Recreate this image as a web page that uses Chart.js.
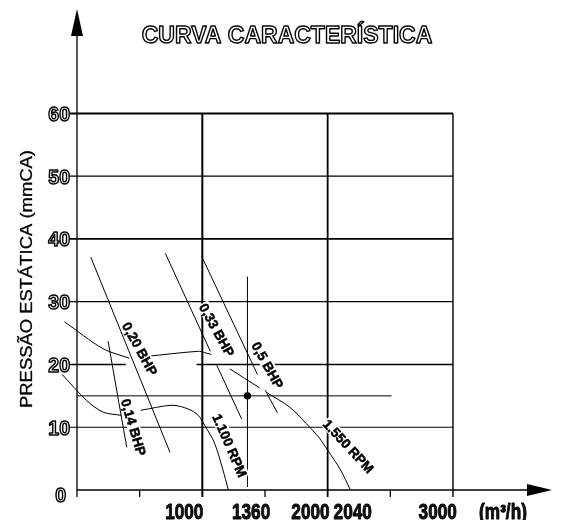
<!DOCTYPE html>
<html>
<head>
<meta charset="utf-8">
<script src="https://cdn.jsdelivr.net/npm/chart.js@4.4.0/dist/chart.umd.min.js"></script>
<style>
  html, body { margin: 0; padding: 0; background: #fff; }
  #wrap { width: 561px; height: 520px; }
</style>
</head>
<body>
<div id="wrap"><canvas id="curva"></canvas></div>
<script>
// vazão (m3/h) x pressão estática (mmCA)
const rpm1550Flow  = [-100, 209, 418, null, 562, 967, 1016, 1071, null, 1219, 1455, null, 1516, 1698, 1829, 1933, 1998, 2100, 2182];
const rpm1550Press = [26.8, 22.5, 21.0, null, 21.3, 22.1, 21.9, 21.6, null, 19.3, 16.3, null, 15.5, 13.2, 10.6, 8.3, 6.4, 3.3, 0];

const rpm1100Flow  = [-118, 78, 209, 353, null, 509, 758, 889, 967, 1019, 1097, 1163, 1208];
const rpm1100Press = [18.4, 14.25, 12.4, 11.9, null, 12.7, 13.5, 12.9, 11.9, 10.3, 7.5, 3.3, 0];

// linhas de potência
const bhp014Flow = [248, 397];          const bhp014Press = [23.7, 6.8];
const bhp020Flow = [110, 742];          const bhp020Press = [37.1, 6.0];
const bhp033Flow = [705, 1064, null, 1115, 1314]; const bhp033Press = [37.7, 22.1, null, 19.9, 11.3];
const bhp050Flow = [993, 1440, null, 1502, 1599]; const bhp050Press = [37.3, 18.4, null, 15.9, 12.3];

// ponto de operação
const opFlow = 1360;
const opPress = 15;
const opLineEnd = 2510;
const opVertTop = 34;

// eixos
const flowGrid = [1000, 2000, 3000];
const flowMinor = [500, 1500, 2500];
const pressGrid = [10, 20, 30, 40, 50, 60];
const pressLabels = ['0', '10', '20', '30', '40', '50', '60'];
const flowLabels = ['1000', '1360', '2000', '2040', '3000', '(m³/h)'];
const flowLabelAt = [856, 1389, 1863, 2200, 2878, 3399];
const grid20Gap = [389, 954];

const notes = [
  { text: '0,20 BHP', x: 503, y: 22.5, angle: 61 },
  { text: '0,14 BHP', x: 452, y: 10.0, angle: 73.5 },
  { text: '0,33 BHP', x: 1117, y: 25.5, angle: 61 },
  { text: '0,5 BHP', x: 1522, y: 19.9, angle: 60.6 },
  { text: '1.100 RPM', x: 1220, y: 7.1, angle: 66.7 },
  { text: '1.550 RPM', x: 2167, y: 7.0, angle: 47 }
];

const pts = (xs, ys) => xs.map((v, i) => ({ x: v, y: ys[i] }));
const FONT = '"Liberation Sans", Arial, sans-serif';

function line(data, tension) {
  return { data, showLine: true, borderColor: '#000', borderWidth: 1, pointRadius: 0, tension: tension || 0, spanGaps: false };
}

function seg(ctx, x1, y1, x2, y2, w) {
  ctx.lineWidth = w;
  ctx.beginPath();
  ctx.moveTo(x1, y1);
  ctx.lineTo(x2, y2);
  ctx.stroke();
}

function txt(ctx, s, px, py, size, opts) {
  const o = Object.assign({ weight: 'bold', sx: 1, align: 'center', fill: '#000', stroke: null, lw: 1 }, opts);
  ctx.save();
  ctx.translate(px, py);
  ctx.scale(o.sx, 1);
  ctx.font = o.weight + ' ' + size + 'px ' + FONT;
  ctx.textAlign = o.align;
  ctx.textBaseline = 'alphabetic';
  const by = size * 0.358;
  ctx.fillStyle = o.fill;
  ctx.fillText(s, 0, by);
  if (o.stroke) {
    ctx.lineWidth = o.lw;
    ctx.strokeStyle = o.stroke;
    ctx.lineJoin = 'round';
    ctx.strokeText(s, 0, by);
  }
  ctx.restore();
}

const drawing = {
  id: 'drawing',
  beforeDatasetsDraw(chart) {
    const { ctx, scales: { x, y } } = chart;
    const X = v => x.getPixelForValue(v), Y = v => y.getPixelForValue(v);
    ctx.save();
    ctx.strokeStyle = '#000';
    ctx.fillStyle = '#000';
    ctx.lineCap = 'butt';

    const x0 = X(0), y0 = Y(0);
    const right = X(3000);
    const hw = { 10: 1.1, 20: 1.3, 30: 1.3, 40: 1.8, 50: 1.2, 60: 2 };
    pressGrid.forEach(v => {
      if (v === 20) {
        seg(ctx, x0 - 7, Y(v), X(grid20Gap[0]), Y(v), hw[v]);
        seg(ctx, X(grid20Gap[1]), Y(v), right, Y(v), hw[v]);
      } else {
        seg(ctx, x0 - 7, Y(v), right, Y(v), hw[v]);
      }
    });
    const vw = { 1000: 2, 2000: 1.8, 3000: 1.4 };
    flowGrid.forEach(v => seg(ctx, X(v), Y(60), X(v), y0 + 7, vw[v]));
    flowMinor.forEach(v => seg(ctx, X(v), y0, X(v), y0 + 7, 1.3));

    // linhas do ponto de operação
    seg(ctx, x0, Y(opPress), X(opLineEnd), Y(opPress), 1);
    seg(ctx, X(opFlow), Y(opVertTop), X(opFlow), y0 - 3, 1);

    // eixos com setas
    const topTip = 9, rightTip = 552;
    seg(ctx, x0, y0 + 7, x0, topTip + 20, 1.3);
    seg(ctx, x0, y0, rightTip - 20, y0, 1.3);
    ctx.beginPath();
    ctx.moveTo(x0, topTip); ctx.lineTo(x0 - 6, topTip + 27); ctx.lineTo(x0 + 6, topTip + 27); ctx.closePath();
    ctx.fill();
    ctx.beginPath();
    ctx.moveTo(rightTip, y0); ctx.lineTo(rightTip - 25, y0 - 6); ctx.lineTo(rightTip - 25, y0 + 6); ctx.closePath();
    ctx.fill();

    // rótulos dos eixos
    pressLabels.forEach((s, i) => {
      const v = i * 10;
      const o = { sx: 0.95, align: 'right', fill: '#fff', stroke: '#000', lw: 1.5 };
      if (v === 0) txt(ctx, s, x0 - 11, y0 + 5, 20.5, o);
      else txt(ctx, s, x0 - 7, Y(v), 20.5, o);
    });
    flowLabels.forEach((s, i) => {
      txt(ctx, s, X(flowLabelAt[i]), 511.5, 21.5, { sx: 0.8, fill: '#111', stroke: '#000', lw: 0.9 });
    });

    // título
    txt(ctx, 'CURVA CARACTERÍSTICA', 287, 35, 23, { fill: '#fff', stroke: '#000', lw: 1.4 });

    // título do eixo y
    ctx.save();
    ctx.translate(26.5, 279);
    ctx.rotate(-Math.PI / 2);
    ctx.font = '16.5px ' + FONT;
    const w = ctx.measureText('PRESSÃO ESTÁTICA (mmCA)').width;
    ctx.scale(258 / w, 1);
    ctx.textAlign = 'center';
    ctx.fillStyle = '#000';
    ctx.strokeStyle = '#000';
    ctx.lineWidth = 0.3;
    ctx.fillText('PRESSÃO ESTÁTICA (mmCA)', 0, 5.9);
    ctx.strokeText('PRESSÃO ESTÁTICA (mmCA)', 0, 5.9);
    ctx.restore();

    ctx.restore();
  },
  afterDatasetsDraw(chart) {
    const { ctx, scales: { x, y } } = chart;
    ctx.save();
    notes.forEach(n => {
      ctx.save();
      ctx.translate(x.getPixelForValue(n.x), y.getPixelForValue(n.y));
      ctx.rotate(n.angle * Math.PI / 180);
      ctx.font = 'bold 13.5px ' + FONT;
      const w = ctx.measureText(n.text).width;
      ctx.fillStyle = '#fff';
      ctx.fillRect(-w / 2 - 1, -6.5, w + 2, 13);
      ctx.fillStyle = '#000';
      ctx.strokeStyle = '#000';
      ctx.lineWidth = 0.5;
      ctx.textAlign = 'center';
      ctx.fillText(n.text, 0, 4.9);
      ctx.strokeText(n.text, 0, 4.9);
      ctx.restore();
    });
    ctx.restore();
  }
};

new Chart(document.getElementById('curva'), {
  type: 'scatter',
  data: {
    datasets: [
      line(pts(rpm1550Flow, rpm1550Press), 0.3),
      line(pts(rpm1100Flow, rpm1100Press), 0.3),
      line(pts(bhp014Flow, bhp014Press)),
      line(pts(bhp020Flow, bhp020Press)),
      line(pts(bhp033Flow, bhp033Press)),
      line(pts(bhp050Flow, bhp050Press)),
      { data: [{ x: opFlow, y: opPress }], pointRadius: 3.3, pointBackgroundColor: '#000', pointBorderColor: '#000', showLine: false }
    ]
  },
  options: {
    responsive: true,
    maintainAspectRatio: false,
    animation: false,
    layout: { padding: 0 },
    plugins: { legend: { display: false }, tooltip: { enabled: false }, title: { display: false } },
    scales: {
      x: { type: 'linear', display: false, min: -574.5, max: 3822 },
      y: { type: 'linear', display: false, min: -3.98, max: 77.27 }
    }
  },
  plugins: [drawing]
});
</script>
</body>
</html>
